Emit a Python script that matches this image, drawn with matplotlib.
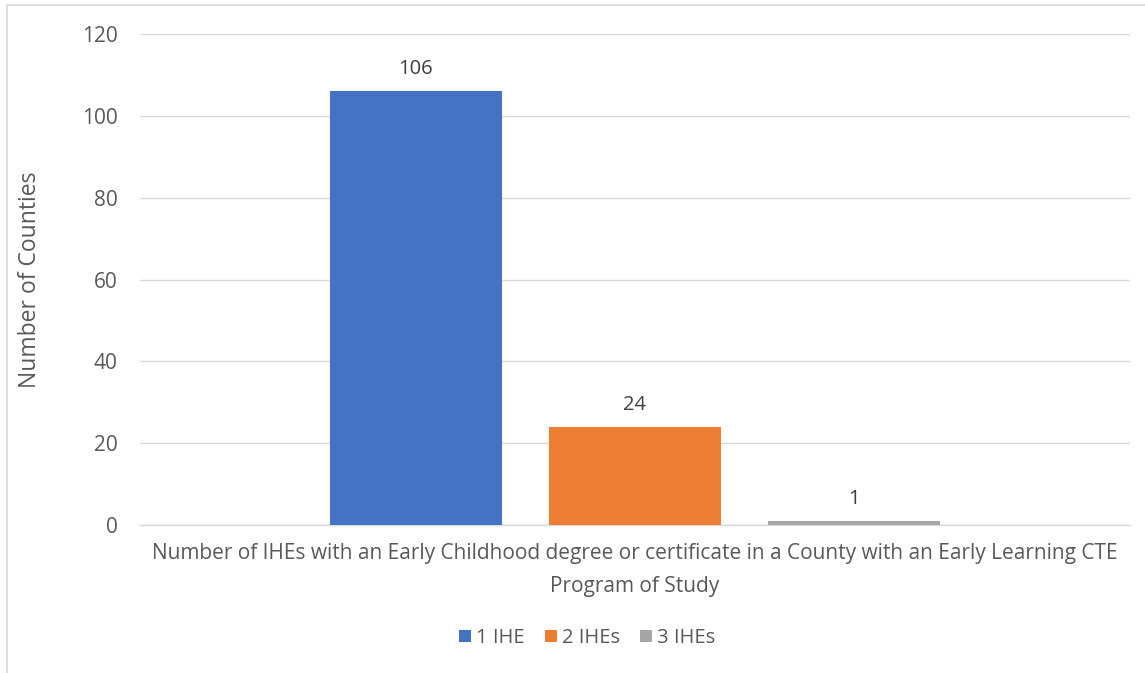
import matplotlib
matplotlib.use('Agg')
import matplotlib.pyplot as plt
from matplotlib.patches import Rectangle

plt.rcParams['font.family'] = ['Open Sans', 'DejaVu Sans']

series = ["1 IHE", "2 IHEs", "3 IHEs"]
counts = [106, 24, 1]
colors = ["#4472C4", "#ED7D31", "#A5A5A5"]
category = ("Number of IHEs with an Early Childhood degree or certificate in a County with an Early Learning CTE\n"
            "Program of Study")
yticks = [0, 20, 40, 60, 80, 100, 120]

W, H = 1145, 673
fig = plt.figure(figsize=(W / 100, H / 100), dpi=100)
ax = fig.add_axes([140 / W, 1 - 525 / H, 990 / W, 491 / H])

# chart border like Excel
fig.patches.append(Rectangle((7 / W, -0.05), 1.1, 1 - 5 / H + 0.05, transform=fig.transFigure,
                             fill=False, edgecolor="#D9D9D9", linewidth=1.2))

pos = [-1, 0, 1]
for p, v, c, s in zip(pos, counts, colors, series):
    ax.bar(p, v, width=0.785, color=c, label=s, zorder=3)
    ax.text(p, v + 2.9, str(v), ha="center", va="bottom", fontsize=14.5, color="#404040")

ax.set_xlim(-2.26, 2.26)
ax.set_ylim(0, 120)
ax.set_yticks(yticks)
ax.tick_params(axis="y", length=0, labelsize=15, labelcolor="#595959", pad=16)
ax.set_xticks([])
ax.grid(axis="y", color="#D9D9D9", linewidth=1, zorder=0)
for sp in ["top", "right", "left"]:
    ax.spines[sp].set_visible(False)
ax.spines["bottom"].set_color("#D9D9D9")
ax.spines["bottom"].set_linewidth(1)

ax.set_ylabel("Number of Counties", fontsize=16.5, color="#595959")
ax.yaxis.set_label_coords(-0.099, 0.5)

fig.text(635 / W, 1 - 570 / H, category, ha="center", va="center", fontsize=15,
         color="#595959", linespacing=1.7)

fig.legend(loc="center", bbox_to_anchor=(587 / W, 1 - 638 / H), ncol=3, frameon=False,
           fontsize=14.5, labelcolor="#595959", handlelength=0.6, handleheight=0.6,
           handletextpad=0.25, columnspacing=1.0)

fig.savefig("out.png", dpi=100)
